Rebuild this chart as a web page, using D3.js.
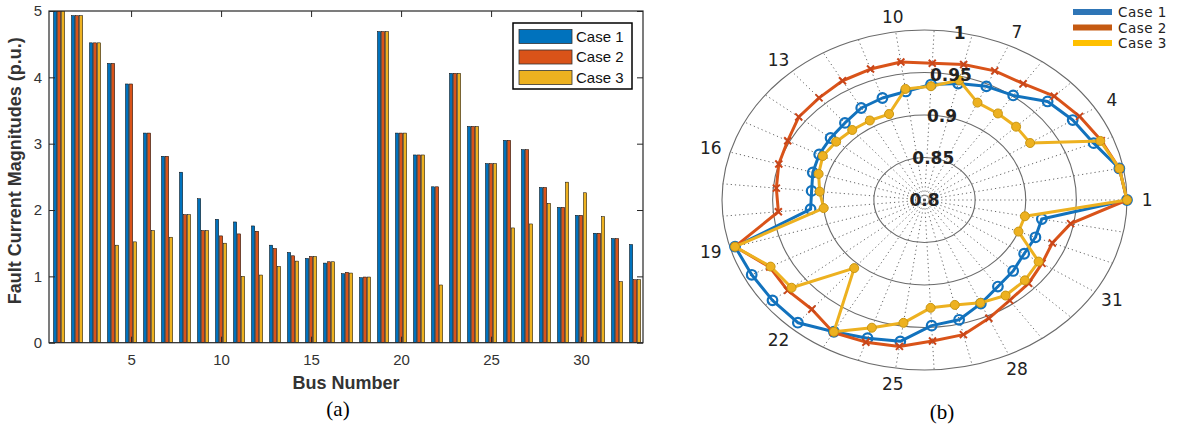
<html>
<head>
<script src="https://d3js.org/d3.v7.min.js"></script>
<style>
  body { margin: 0; background: #fff; }
  .axis text { font-family: "Liberation Sans", Arial, sans-serif; font-size: 15px; fill: #333; }
  .axis line { stroke: #262626; }
  .axis .domain { stroke: none; }
</style>
</head>
<body>
<svg id="chart" width="1180" height="427"></svg>
<script>
// ---- data ----
const buses = [1,2,3,4,5,6,7,8,9,10,11,12,13,14,15,16,17,18,19,20,21,22,23,24,25,26,27,28,29,30,31,32,33];
const caseNames = ['Case 1', 'Case 2', 'Case 3'];

// (a) fault current magnitudes, p.u.
const faultCase1 = [5.00,4.93,4.52,4.21,3.90,3.16,2.81,2.57,2.17,1.86,1.82,1.76,1.47,1.36,1.27,1.20,1.04,0.98,4.69,3.16,2.83,2.35,4.06,3.26,2.70,3.05,2.91,2.34,2.04,1.92,1.65,1.57,1.48];
const faultCase2 = [5.00,4.93,4.52,4.21,3.90,3.16,2.81,1.93,1.69,1.61,1.64,1.68,1.42,1.31,1.30,1.22,1.06,0.99,4.69,3.16,2.83,2.35,4.06,3.26,2.70,3.05,2.91,2.34,2.04,1.92,1.65,1.57,0.95];
const faultCase3 = [5.00,4.93,4.52,1.47,1.52,1.69,1.59,1.93,1.69,1.50,1.00,1.02,1.15,1.23,1.30,1.22,1.05,0.99,4.69,3.16,2.83,0.87,4.06,3.26,2.70,1.73,1.79,2.10,2.42,2.26,1.90,0.92,0.95];
const barXTicks = [5,10,15,20,25,30];
const barYTicks = [0,1,2,3,4,5];

// (b) bus voltages, p.u.
const voltCase1 = [1.000,0.996,0.980,0.974,0.968,0.951,0.947,0.941,0.936,0.929,0.927,0.925,0.920,0.918,0.917,0.915,0.912,0.913,0.995,0.992,0.991,0.991,0.979,0.972,0.968,0.948,0.945,0.934,0.925,0.921,0.917,0.918,0.918];
const voltCase2 = [1.000,0.996,0.988,0.982,0.977,0.968,0.967,0.964,0.961,0.964,0.963,0.962,0.959,0.958,0.952,0.950,0.947,0.945,0.995,0.972,0.972,0.970,0.980,0.977,0.974,0.966,0.963,0.953,0.945,0.942,0.938,0.936,0.947];
const voltCase3 = [1.000,0.996,0.987,0.924,0.925,0.925,0.926,0.945,0.934,0.932,0.907,0.908,0.909,0.911,0.913,0.909,0.904,0.900,0.995,0.971,0.967,0.906,0.979,0.959,0.946,0.927,0.927,0.933,0.938,0.937,0.934,0.900,0.901];
const polarThetaLabels = [1,4,7,10,13,16,19,22,25,28,31];
const polarRTicks = [0.8,0.85,0.9,0.95,1];

const svg = d3.select('svg#chart');

// ================= (a) grouped bar chart =================
const plotL = 49, plotR = 643, plotT = 11, plotB = 342.7;
const barColors = ['#0072BD', '#D95319', '#EDB120'];
const xScale = d3.scaleLinear().domain([0.44, 33.44]).range([plotL, plotR]);
const yScale = d3.scaleLinear().domain([0, 5]).range([plotB, plotT]);

svg.append('clipPath').attr('id', 'barclip')
   .append('rect').attr('x', plotL).attr('y', plotT)
   .attr('width', plotR - plotL).attr('height', plotB - plotT);

const faultSeries = [faultCase1, faultCase2, faultCase3];
const groupStep = 0.2222, barW = 0.178;
const barLayer = svg.append('g').attr('clip-path', 'url(#barclip)');
faultSeries.forEach((vals, j) => {
  barLayer.selectAll('rect.c' + j)
    .data(buses)
    .enter().append('rect')
    .attr('class', 'c' + j)
    .attr('x', (b) => xScale(b + (j - 1) * groupStep - barW / 2))
    .attr('width', xScale(barW) - xScale(0))
    .attr('y', (b, i) => yScale(vals[i]))
    .attr('height', (b, i) => yScale(0) - yScale(vals[i]))
    .attr('fill', barColors[j])
    .attr('stroke', '#000')
    .attr('stroke-width', 0.5);
});

// axes (ticks inward, MATLAB style box)
svg.append('g').attr('class', 'axis')
   .attr('transform', `translate(0,${plotB})`)
   .call(d3.axisBottom(xScale).tickValues(barXTicks).tickFormat(d3.format('d'))
         .tickSizeInner(-6).tickSizeOuter(0).tickPadding(12));
svg.append('g').attr('class', 'axis')
   .attr('transform', `translate(0,${plotT})`)
   .call(d3.axisTop(xScale).tickValues(barXTicks).tickSizeInner(-6).tickSizeOuter(0).tickFormat(''));
svg.append('g').attr('class', 'axis')
   .attr('transform', `translate(${plotL},0)`)
   .call(d3.axisLeft(yScale).tickValues(barYTicks).tickFormat(d3.format('d'))
         .tickSizeInner(-6).tickSizeOuter(0).tickPadding(7));
svg.append('g').attr('class', 'axis')
   .attr('transform', `translate(${plotR},0)`)
   .call(d3.axisRight(yScale).tickValues(barYTicks).tickSizeInner(-6).tickSizeOuter(0).tickFormat(''));

svg.append('rect')
   .attr('x', plotL).attr('y', plotT)
   .attr('width', plotR - plotL).attr('height', plotB - plotT)
   .attr('fill', 'none').attr('stroke', '#262626').attr('stroke-width', 1.2);

svg.append('text')
   .attr('transform', `translate(21,${(plotT + plotB) / 2 - 6}) rotate(-90)`)
   .attr('text-anchor', 'middle')
   .style('font-family', '"Liberation Sans", Arial, sans-serif')
   .style('font-weight', 'bold').style('font-size', '18px').style('fill', '#333')
   .text('Fault Current Magnitudes (p.u.)');

svg.append('text')
   .attr('x', (plotL + plotR) / 2).attr('y', 389)
   .attr('text-anchor', 'middle')
   .style('font-family', '"Liberation Sans", Arial, sans-serif')
   .style('font-weight', 'bold').style('font-size', '18px').style('fill', '#333')
   .text('Bus Number');

// legend (a)
const legA = svg.append('g');
legA.append('rect').attr('x', 513).attr('y', 23).attr('width', 119).attr('height', 66)
    .attr('fill', '#fff').attr('stroke', '#000').attr('stroke-width', 1.5);
caseNames.forEach((name, j) => {
  legA.append('rect').attr('x', 519).attr('y', 29.5 + j * 20.5).attr('width', 53).attr('height', 14)
      .attr('fill', barColors[j]).attr('stroke', '#333').attr('stroke-width', 0.8);
  legA.append('text').attr('x', 576).attr('y', 41.5 + j * 20.5)
      .style('font-family', '"Liberation Sans", Arial, sans-serif')
      .style('font-size', '15px').style('fill', '#111')
      .text(name);
});

// captions
svg.append('text').attr('x', 338).attr('y', 416).attr('text-anchor', 'middle')
   .style('font-family', '"Liberation Serif", "Times New Roman", serif').style('font-size', '21px')
   .text('(a)');
svg.append('text').attr('x', 942).attr('y', 419).attr('text-anchor', 'middle')
   .style('font-family', '"Liberation Serif", "Times New Roman", serif').style('font-size', '21px')
   .text('(b)');

// ================= (b) polar plot =================
const cx = 924.5, cy = 200, rx = 202.5, ry = 170;
const rScale = d3.scaleLinear().domain([0.8, 1]).range([0, 1]);
const thetaScale = d3.scaleLinear().domain([1, 34]).range([0, 2 * Math.PI]);
const px = (bus, v) => cx + rx * rScale(v) * Math.cos(thetaScale(bus));
const py = (bus, v) => cy - ry * rScale(v) * Math.sin(thetaScale(bus));

const grid = svg.append('g');
// spokes
grid.selectAll('line.spoke')
  .data(buses)
  .enter().append('line')
  .attr('x1', cx).attr('y1', cy)
  .attr('x2', (b) => px(b, 1)).attr('y2', (b) => py(b, 1))
  .attr('stroke', '#555').attr('stroke-width', 0.9)
  .attr('stroke-dasharray', '1.2,3');
// rings
grid.selectAll('ellipse.ring')
  .data(polarRTicks.filter((t) => t > 0.8))
  .enter().append('ellipse')
  .attr('cx', cx).attr('cy', cy)
  .attr('rx', (t) => rx * rScale(t)).attr('ry', (t) => ry * rScale(t))
  .attr('fill', 'none').attr('stroke', '#6a6a6a').attr('stroke-width', 1.1);

const voltSeries = [voltCase1, voltCase2, voltCase3];
const polarColors = ['#1272BD', '#D95319', '#EDB120'];
const polarLine = d3.line().curve(d3.curveLinearClosed);

voltSeries.forEach((vals, j) => {
  const pts = buses.map((b, i) => [px(b, vals[i]), py(b, vals[i])]);
  svg.append('path')
     .attr('d', polarLine(pts))
     .attr('fill', 'none')
     .attr('stroke', polarColors[j])
     .attr('stroke-width', 3)
     .attr('stroke-linejoin', 'round');
  const m = svg.append('g');
  if (j === 0) {
    m.selectAll('circle').data(pts).enter().append('circle')
     .attr('cx', (d) => d[0]).attr('cy', (d) => d[1]).attr('r', 4.8)
     .attr('fill', 'none').attr('stroke', polarColors[j]).attr('stroke-width', 2.2);
  } else if (j === 1) {
    m.selectAll('path').data(pts).enter().append('path')
     .attr('d', (d) => `M${d[0]-3.5},${d[1]-3.5}L${d[0]+3.5},${d[1]+3.5}M${d[0]-3.5},${d[1]+3.5}L${d[0]+3.5},${d[1]-3.5}`)
     .attr('stroke', '#c9461a').attr('stroke-width', 2);
  } else {
    m.selectAll('circle').data(pts).enter().append('circle')
     .attr('cx', (d) => d[0]).attr('cy', (d) => d[1]).attr('r', 4.5)
     .attr('fill', polarColors[j]).attr('stroke', '#c99612').attr('stroke-width', 1);
  }
});

// theta labels
svg.selectAll('text.theta')
  .data(polarThetaLabels)
  .enter().append('text')
  .attr('x', (b) => cx + rx * 1.1 * Math.cos(thetaScale(b)))
  .attr('y', (b) => cy - ry * 1.09 * Math.sin(thetaScale(b)))
  .attr('dy', '0.36em')
  .attr('text-anchor', 'middle')
  .style('font-family', '"DejaVu Sans", sans-serif')
  .style('font-size', '17px').style('fill', '#222')
  .text((b) => b);

// r labels along 80 degrees
const rAng = 80 * Math.PI / 180;
svg.selectAll('text.rlab')
  .data(polarRTicks)
  .enter().append('text')
  .attr('x', (t) => cx + rx * rScale(t) * Math.cos(rAng))
  .attr('y', (t) => cy - ry * rScale(t) * Math.sin(rAng))
  .attr('dy', '0.36em')
  .attr('text-anchor', 'middle')
  .style('font-family', '"DejaVu Sans", sans-serif')
  .style('font-weight', 'bold')
  .style('font-size', '17px').style('fill', '#222')
  .text((t) => t);

// legend (b)
const legendColors = ['#2E75B6', '#C55A11', '#FFC000'];
caseNames.forEach((name, j) => {
  svg.append('line')
     .attr('x1', 1073).attr('x2', 1112)
     .attr('y1', 12 + j * 15.5).attr('y2', 12 + j * 15.5)
     .attr('stroke', legendColors[j]).attr('stroke-width', 6);
  svg.append('text').attr('x', 1118).attr('y', 17 + j * 15.5)
     .style('font-family', '"DejaVu Sans", sans-serif')
     .style('font-size', '13.5px').style('letter-spacing', '0.5px').style('fill', '#222')
     .text(name);
});
</script>
</body>
</html>
